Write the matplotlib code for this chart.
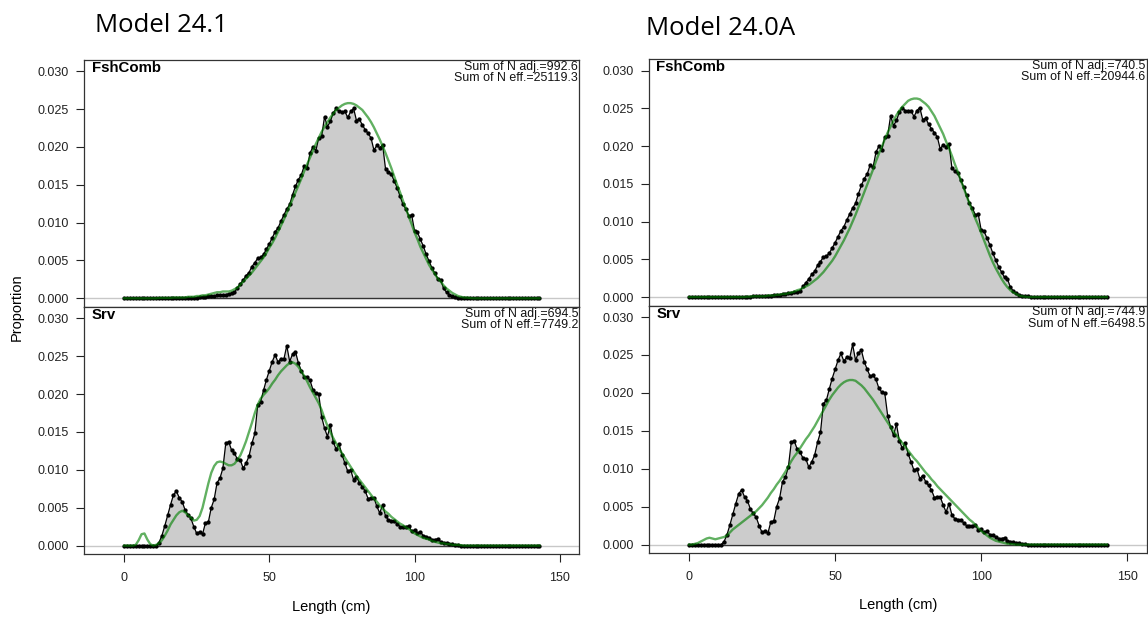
import numpy as np
import matplotlib
matplotlib.use("Agg")
import matplotlib.pyplot as plt

plt.rcParams["font.family"] = ["Liberation Sans", "DejaVu Sans"]

# ── Data (proportion at length, 1-cm bins) ────────────────────────────
length_bins = np.arange(0, 144)

fsh_obs = [
    0, 0, 0, 0, 0, 0, 0, 0, 0, 0,
    0, 0, 0, 0, 0, 0, 0, 0, 0, 0,
    .00005, .00005, .0001, .0001, .0001, .0001, .0002, .0002, .0002, .0003,
    .0003, .0003, .0004, .0004, .0005, .0005, .0006, .0007, .0008, .0014,
    .0019, .0024, .0030, .0034, .0042, .0047, .0053, .0054, .0058, .0065,
    .0072, .0080, .0088, .0093, .0102, .0110, .0118, .0124, .0137, .0148,
    .0157, .0163, .0175, .0172, .0192, .0200, .0195, .0212, .0214, .0240,
    .0227, .0234, .0245, .0251, .0247, .0246, .0247, .0239, .0247, .0251,
    .0235, .0237, .0229, .0223, .0218, .0212, .0196, .0202, .0199, .0203,
    .0171, .0167, .0164, .0155, .0146, .0135, .0124, .0118, .0109, .0110,
    .0089, .0087, .0078, .0069, .0058, .0049, .0040, .0033, .0026, .0024,
    .0013, .0008, .0005, .0003, .0002, .0001, .0001, 0, 0, 0,
    0, 0, 0, 0, 0, 0, 0, 0, 0, 0,
    0, 0, 0, 0, 0, 0, 0, 0, 0, 0,
    0, 0, 0, 0,
]

fsh_exp_241 = [
    0, 0, 0, 0, 0, 0, 0, 0, 0, 0,
    0, 0, .00005, .00005, .00005, .00005, .00005, .0001, .0001, .0001,
    .0001, .0001, .0002, .0002, .0002, .0003, .0003, .0004, .0004, .0005,
    .0006, .0007, .0008, .0008, .0009, .0009, .0009, .0010, .0012, .0014,
    .0018, .0022, .0026, .0030, .0034, .0039, .0044, .0049, .0054, .0060,
    .0067, .0073, .0080, .0088, .0096, .0104, .0113, .0122, .0131, .0140,
    .0149, .0158, .0168, .0177, .0186, .0195, .0204, .0212, .0220, .0227,
    .0233, .0239, .0244, .0249, .0252, .0255, .0257, .0258, .0258, .0257,
    .0255, .0252, .0249, .0244, .0239, .0233, .0226, .0218, .0210, .0201,
    .0192, .0182, .0172, .0161, .0150, .0140, .0129, .0119, .0108, .0098,
    .0087, .0078, .0068, .0060, .0052, .0044, .0038, .0032, .0026, .0022,
    .0017, .0013, .0010, .0007, .0005, .0003, .0002, .0001, .0001, .00005,
    0, 0, 0, 0, 0, 0, 0, 0, 0, 0,
    0, 0, 0, 0, 0, 0, 0, 0, 0, 0,
    0, 0, 0, 0,
]

fsh_exp_240a = [
    0, 0, 0, 0, 0, 0, 0, 0, 0, 0,
    0, 0, 0, 0, 0, 0, 0, 0, 0, 0,
    .00005, .00005, .0001, .0001, .0001, .0001, .0001, .0002, .0002, .0002,
    .0003, .0003, .0004, .0004, .0005, .0006, .0007, .0009, .0010, .0012,
    .0014, .0016, .0019, .0022, .0025, .0029, .0033, .0038, .0043, .0048,
    .0054, .0061, .0068, .0075, .0083, .0091, .0100, .0109, .0119, .0129,
    .0139, .0149, .0159, .0169, .0180, .0190, .0199, .0209, .0218, .0226,
    .0234, .0241, .0247, .0252, .0256, .0260, .0262, .0263, .0263, .0262,
    .0259, .0256, .0252, .0246, .0240, .0232, .0224, .0216, .0206, .0197,
    .0187, .0176, .0166, .0155, .0145, .0134, .0124, .0114, .0104, .0095,
    .0085, .0075, .0065, .0055, .0046, .0038, .0031, .0024, .0018, .0013,
    .0009, .0006, .0004, .0002, .0001, .00005, 0, 0, 0, 0,
    0, 0, 0, 0, 0, 0, 0, 0, 0, 0,
    0, 0, 0, 0, 0, 0, 0, 0, 0, 0,
    0, 0, 0, 0,
]

srv_obs = [
    0, 0, 0, 0, 0, 0, 0, 0, 0, 0,
    0, 0, .0004, .0013, .0026, .0040, .0054, .0067, .0072, .0063,
    .0058, .0047, .0041, .0036, .0025, .0016, .0018, .0015, .0030, .0031,
    .0050, .0061, .0083, .0089, .0102, .0135, .0137, .0126, .0122, .0114,
    .0113, .0102, .0109, .0118, .0135, .0148, .0186, .0190, .0205, .0219,
    .0231, .0243, .0252, .0242, .0247, .0246, .0264, .0243, .0253, .0256,
    .0241, .0231, .0222, .0223, .0218, .0206, .0201, .0200, .0170, .0155,
    .0144, .0159, .0137, .0127, .0134, .0120, .0109, .0098, .0100, .0087,
    .0091, .0083, .0078, .0072, .0062, .0063, .0063, .0052, .0043, .0054,
    .0039, .0034, .0033, .0032, .0029, .0025, .0024, .0025, .0026, .0019,
    .0020, .0016, .0018, .0013, .0012, .0010, .0008, .0008, .0009, .0005,
    .0004, .0003, .0002, .0002, .0001, .0001, 0, 0, 0, 0,
    0, 0, 0, 0, 0, 0, 0, 0, 0, 0,
    0, 0, 0, 0, 0, 0, 0, 0, 0, 0,
    0, 0, 0, 0,
]

srv_exp_241 = [
    0, 0, 0, 0, .0001, .0007, .0015, .0016, .0008, .0002,
    0, .0001, .0003, .0007, .0013, .0020, .0028, .0034, .0040, .0044,
    .0046, .0044, .0040, .0037, .0033, .0034, .0039, .0050, .0066, .0082,
    .0096, .0105, .0110, .0111, .0110, .0108, .0106, .0106, .0108, .0113,
    .0119, .0128, .0138, .0150, .0162, .0175, .0186, .0194, .0199, .0203,
    .0208, .0214, .0219, .0225, .0230, .0234, .0238, .0241, .0242, .0240,
    .0236, .0230, .0224, .0217, .0209, .0202, .0195, .0188, .0179, .0168,
    .0158, .0150, .0142, .0135, .0128, .0122, .0116, .0110, .0104, .0098,
    .0092, .0087, .0082, .0077, .0072, .0067, .0062, .0058, .0053, .0049,
    .0045, .0042, .0038, .0035, .0032, .0029, .0027, .0024, .0022, .0019,
    .0016, .0014, .0012, .0010, .0009, .0008, .0006, .0005, .0004, .0003,
    .0003, .0002, .0002, .0001, .0001, .0001, .00005, 0, 0, 0,
    0, 0, 0, 0, 0, 0, 0, 0, 0, 0,
    0, 0, 0, 0, 0, 0, 0, 0, 0, 0,
    0, 0, 0, 0,
]

srv_exp_240a = [
    0, 0, .0001, .0002, .0004, .0006, .0008, .0009, .0008, .0007,
    .0008, .0009, .0010, .0012, .0016, .0020, .0023, .0026, .0029, .0032,
    .0035, .0038, .0041, .0044, .0048, .0052, .0057, .0062, .0068, .0073,
    .0079, .0084, .0090, .0096, .0103, .0110, .0116, .0121, .0127, .0133,
    .0139, .0144, .0150, .0156, .0163, .0170, .0177, .0184, .0191, .0197,
    .0202, .0207, .0211, .0214, .0216, .0217, .0217, .0216, .0213, .0210,
    .0206, .0201, .0196, .0191, .0185, .0179, .0173, .0167, .0161, .0155,
    .0149, .0144, .0139, .0134, .0129, .0124, .0119, .0114, .0110, .0105,
    .0100, .0095, .0091, .0086, .0082, .0077, .0073, .0069, .0065, .0061,
    .0057, .0053, .0049, .0045, .0041, .0037, .0033, .0030, .0026, .0022,
    .0018, .0015, .0012, .0009, .0007, .0005, .0004, .0003, .0002, .0001,
    .0001, .00005, 0, 0, 0, 0, 0, 0, 0, 0,
    0, 0, 0, 0, 0, 0, 0, 0, 0, 0,
    0, 0, 0, 0, 0, 0, 0, 0, 0, 0,
    0, 0, 0, 0,
]

model_titles = ["Model 24.1", "Model 24.0A"]
fleet_names = ["FshComb", "Srv"]
n_adj = [["992.6", "694.5"], ["740.5", "744.9"]]
n_eff = [["25119.3", "7749.2"], ["20944.6", "6498.5"]]
y_ticks = [0.0, 0.005, 0.010, 0.015, 0.020, 0.025, 0.030]
x_ticks = [0, 50, 100, 150]

observed = [fsh_obs, srv_obs]
expected = [[fsh_exp_241, srv_exp_241], [fsh_exp_240a, srv_exp_240a]]

# ── Layout (pixel boxes of the two screenshots) ───────────────────────
W, H = 1148, 621
fig = plt.figure(figsize=(W / 100, H / 100), dpi=100)

panels = [
    # left px, right px, top, middle, bottom
    (84.3, 579.0, 60.0, 307.0, 554.3),
    (649.0, 1146.5, 59.3, 305.7, 553.3),
]
title_pos = [(95, 31.7), (646, 35.0)]
xlab_y = [606.7, 605.0]

GREEN = (0.0, 0.5, 0.0)
FRAME = "#333333"

for p, (x0, x1, top, mid, bot) in enumerate(panels):
    boxes = [(top, mid), (mid, bot)]
    for f, (yt, yb) in enumerate(boxes):
        ax = fig.add_axes([x0 / W, 1 - yb / H, (x1 - x0) / W, (yb - yt) / H])
        obs = np.array(observed[f])
        exp = np.array(expected[p][f])

        ax.axhline(0, color="#c8c8c8", lw=1.0, zorder=0.5)
        ax.fill_between(length_bins, 0, obs, facecolor="#cccccc",
                        edgecolor="none", zorder=1)
        ax.hlines(0, length_bins.min(), length_bins.max(), color="#333333",
                  lw=1.0, zorder=1.5)
        ax.plot(length_bins, obs, "-o", color="black", lw=0.9, ms=3.1,
                mew=0, zorder=2)
        ax.plot(length_bins, exp, color=GREEN, alpha=0.62, lw=1.7, zorder=3)

        ax.set_xlim(-13.7, 156.6)
        ax.set_ylim(-0.00115, 0.0315)
        ax.set_yticks(y_ticks)
        ax.set_yticklabels([f"{v:.3f}" for v in y_ticks])
        ax.tick_params(axis="y", direction="out", length=5.5, width=0.8,
                       pad=5.5, labelsize=9, colors="#222222")
        if f == 0:
            ax.set_xticks([])
        else:
            ax.set_xticks(x_ticks)
            ax.tick_params(axis="x", direction="out", length=5.5, width=0.8,
                           pad=7.5, labelsize=9, colors="#222222")
        for s in ax.spines.values():
            s.set_color(FRAME)
            s.set_linewidth(0.9)

        ax.text(0.015, 0.996, fleet_names[f], transform=ax.transAxes,
                ha="left", va="top", fontsize=10.8, fontweight="bold")
        ax.text(0.998, 0.997,
                f"Sum of N adj.={n_adj[p][f]}\nSum of N eff.={n_eff[p][f]}",
                transform=ax.transAxes, ha="right", va="top", fontsize=8.9,
                linespacing=0.9, color="#111111")

    fig.text(title_pos[p][0] / W, 1 - title_pos[p][1] / H, model_titles[p],
             family="Open Sans", fontsize=18.5, ha="left", va="baseline")
    fig.text((x0 + x1) / 2 / W, 1 - xlab_y[p] / H, "Length (cm)",
             ha="center", va="center", fontsize=10.5)

fig.text(16.6 / W, 1 - 307 / H, "Proportion", rotation=90,
         ha="center", va="center", fontsize=10.5)

fig.savefig("out.png", dpi=100)
